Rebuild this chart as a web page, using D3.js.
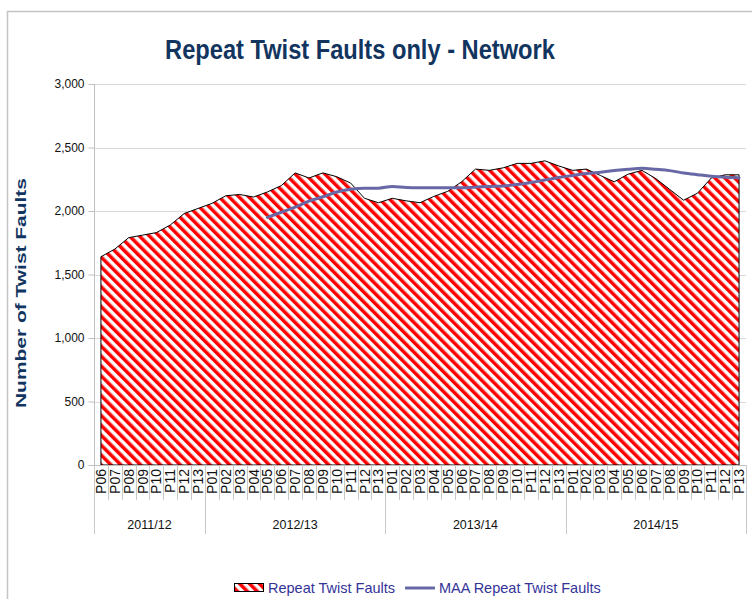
<!DOCTYPE html>
<html>
<head>
<meta charset="utf-8">
<script src="https://cdn.jsdelivr.net/npm/d3@7"></script>
<style>
  html, body { margin: 0; padding: 0; background: #fff; }
  svg { display: block; font-family: "Liberation Sans", Arial, sans-serif; }
</style>
</head>
<body>
<svg id="chart" width="752" height="599"></svg>
<script>
// ---------------- DATA ----------------
const years = ["2011/12", "2012/13", "2013/14", "2014/15"];
const periods = [
  ["P06","P07","P08","P09","P10","P11","P12","P13"],
  ["P01","P02","P03","P04","P05","P06","P07","P08","P09","P10","P11","P12","P13"],
  ["P01","P02","P03","P04","P05","P06","P07","P08","P09","P10","P11","P12","P13"],
  ["P01","P02","P03","P04","P05","P06","P07","P08","P09","P10","P11","P12","P13"]
];
const repeatFaults = [
  1640, 1700, 1790, 1810, 1830, 1890, 1980, 2020,
  2060, 2120, 2130, 2110, 2150, 2200, 2300, 2260, 2300, 2270, 2220, 2100, 2065,
  2100, 2080, 2065, 2115, 2155, 2230, 2330, 2320, 2340, 2375, 2375, 2395, 2355,
  2320, 2330, 2280, 2230, 2290, 2320, 2255, 2170, 2085, 2140, 2260, 2285, 2285
];
const maaFaults = [
  null, null, null, null, null, null, null, null,
  null, null, null, null, 1950, 1990, 2030, 2078, 2112, 2150, 2172, 2180, 2180,
  2193, 2185, 2183, 2183, 2183, 2183, 2188, 2193, 2197, 2208, 2224, 2244, 2264,
  2280, 2295, 2306, 2318, 2328, 2336, 2328, 2318, 2300, 2286, 2273, 2265, 2262
];
const yTicks = [0, 500, 1000, 1500, 2000, 2500, 3000];
const seriesNames = ["Repeat Twist Faults", "MAA Repeat Twist Faults"];
const titleText = "Repeat Twist Faults only - Network";
const yAxisTitle = "Number of Twist Faults";

// ---------------- BUILD ----------------
const cats = [];
years.forEach((yr, yi) => periods[yi].forEach(p => cats.push({ year: yr, period: p })));
cats.forEach((c, i) => { c.i = i; c.v = repeatFaults[i]; c.m = maaFaults[i]; });

const svg = d3.select("#chart");
const L = 94, R = 746, T = 84, B = 465;
const navy = "#12355f";
const legendBlue = "#333399";
const maaColor = "#6868a6";

const x = d3.scaleBand().domain(cats.map(c => c.i)).range([L, R]).padding(0);
const cx = i => x(i) + x.bandwidth() / 2;
const y = d3.scaleLinear().domain([0, 3000]).range([B, T]);

// pattern
const defs = svg.append("defs");
const pat = defs.append("pattern")
  .attr("id", "hatch").attr("patternUnits", "userSpaceOnUse")
  .attr("width", 7).attr("height", 7)
  .attr("patternTransform", "rotate(-45)");
pat.append("rect").attr("width", 7).attr("height", 7).attr("fill", "#fff");
pat.append("rect").attr("width", 3.5).attr("height", 7).attr("fill", "#ff0000");

// outer chart border
svg.append("path")
  .attr("d", "M7.5,620 L7.5,11.5 L760,11.5")
  .attr("fill", "none").attr("stroke", "#c4c4c4").attr("stroke-width", 1.5);

// title
const title = svg.append("text")
  .attr("x", 360).attr("y", 59)
  .attr("text-anchor", "middle")
  .attr("font-size", 28).attr("font-weight", "bold")
  .attr("fill", navy)
  .text(titleText);
{
  const w = title.node().getComputedTextLength();
  const s = 390 / w;
  title.attr("transform", `translate(360,0) scale(${s},1) translate(-360,0)`);
}

// gridlines
svg.append("g").selectAll("line").data(yTicks).join("line")
  .attr("x1", L).attr("x2", R)
  .attr("y1", d => Math.round(y(d)) + 0.5).attr("y2", d => Math.round(y(d)) + 0.5)
  .attr("stroke", "#d9d9d9").attr("stroke-width", 1);

// area
const area = d3.area()
  .x(d => cx(d.i)).y0(y(0)).y1(d => y(d.v));
svg.append("path")
  .datum(cats)
  .attr("d", area)
  .attr("fill", "url(#hatch)")
  .attr("stroke", "#000").attr("stroke-width", 1)
  .attr("stroke-linejoin", "round");

// MAA line
const line = d3.line()
  .defined(d => d.m != null)
  .x(d => cx(d.i)).y(d => y(d.m))
  .curve(d3.curveMonotoneX);
svg.append("path")
  .datum(cats)
  .attr("d", line)
  .attr("fill", "none")
  .attr("stroke", maaColor).attr("stroke-width", 3)
  .attr("stroke-linejoin", "round").attr("stroke-linecap", "round");

// y axis
const yAxis = svg.append("g")
  .attr("transform", `translate(${L + 0.5},0)`)
  .call(d3.axisLeft(y).tickValues(yTicks).tickFormat(d3.format(",")).tickSize(6).tickPadding(4));
yAxis.select(".domain").attr("stroke", "#bfbfbf").attr("d", `M0,${T}V${B}`);
yAxis.selectAll(".tick line").attr("stroke", "#bfbfbf");
yAxis.selectAll(".tick text")
  .attr("font-family", "'Liberation Sans', Arial, sans-serif")
  .attr("font-size", 12).attr("fill", "#111");

// y axis title
const yt = svg.append("text")
  .attr("transform", "translate(26,293) rotate(-90)")
  .attr("text-anchor", "middle")
  .attr("font-size", 15).attr("font-weight", "bold")
  .attr("fill", navy)
  .text(yAxisTitle);
yt.attr("textLength", 230).attr("lengthAdjust", "spacingAndGlyphs");

// x axis line
svg.append("line")
  .attr("x1", L).attr("x2", R).attr("y1", B + 0.5).attr("y2", B + 0.5)
  .attr("stroke", "#bfbfbf");

// category separators
const bounds = d3.range(cats.length + 1);
const yearStarts = [];
{
  let k = 0;
  years.forEach((yr, yi) => { yearStarts.push(k); k += periods[yi].length; });
  yearStarts.push(k);
}
svg.append("g").selectAll("line").data(bounds).join("line")
  .attr("x1", k => Math.round(k < cats.length ? x(k) : R) + 0.5)
  .attr("x2", k => Math.round(k < cats.length ? x(k) : R) + 0.5)
  .attr("y1", B)
  .attr("y2", k => yearStarts.includes(k) ? 534 : 500)
  .attr("stroke", "#c8c8c8");

// period labels
svg.append("g").selectAll("text").data(cats).join("text")
  .attr("transform", d => `translate(${cx(d.i) + 5},469) rotate(-90)`)
  .attr("text-anchor", "end")
  .attr("font-size", 14).attr("fill", "#111")
  .text(d => d.period);

// year labels
svg.append("g").selectAll("text").data(years).join("text")
  .attr("x", (yr, yi) => {
    const a = x(yearStarts[yi]);
    const b = yearStarts[yi + 1] < cats.length ? x(yearStarts[yi + 1]) : R;
    return (a + b) / 2;
  })
  .attr("y", 529)
  .attr("text-anchor", "middle")
  .attr("font-size", 12.5).attr("fill", "#111")
  .text(d => d);

// legend
const lg = svg.append("g");
lg.append("rect").attr("x", 234.5).attr("y", 583.5).attr("width", 29).attr("height", 8)
  .attr("fill", "url(#hatch)").attr("stroke", "#000").attr("stroke-width", 1);
lg.append("text").attr("x", 268).attr("y", 593)
  .attr("font-size", 14.5).attr("fill", legendBlue).text(seriesNames[0]);
lg.append("line").attr("x1", 405).attr("x2", 435).attr("y1", 588).attr("y2", 588)
  .attr("stroke", maaColor).attr("stroke-width", 3);
lg.append("text").attr("x", 439).attr("y", 593)
  .attr("font-size", 14.5).attr("fill", legendBlue).text(seriesNames[1]);
</script>
</body>
</html>
